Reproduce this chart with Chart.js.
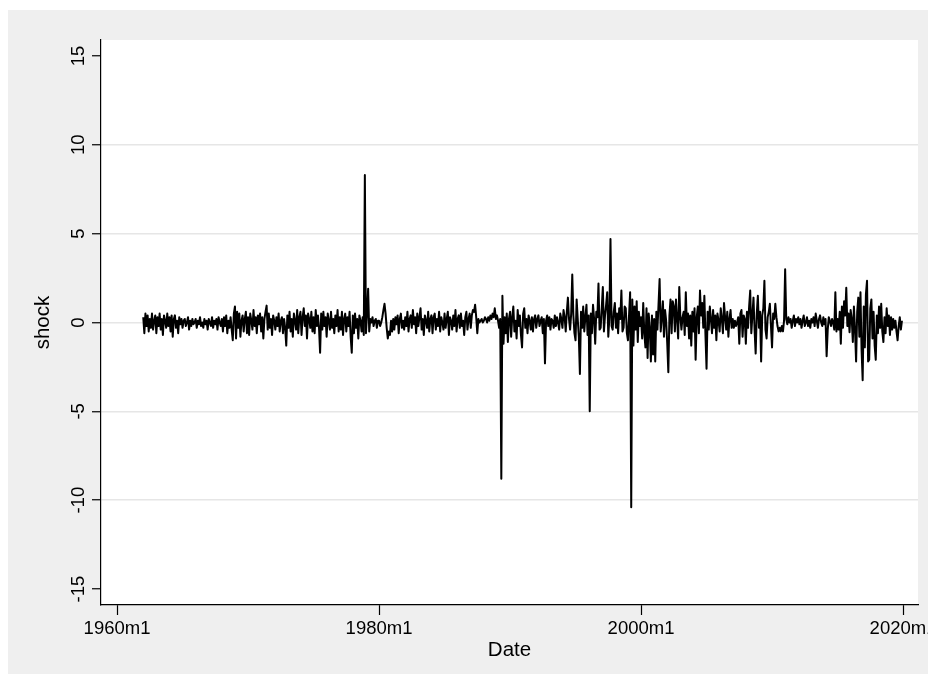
<!DOCTYPE html>
<html>
<head>
<meta charset="utf-8">
<title>shock</title>
<script src="https://cdn.jsdelivr.net/npm/chart.js@4.4.0/dist/chart.umd.min.js"></script>
<style>
    html, body { margin: 0; padding: 0; background: #ffffff; overflow: hidden; }
    #wrap { width: 940px; height: 684px; }
</style>
</head>
<body>
<div id="wrap"><canvas id="shock-chart" width="940" height="684"></canvas></div>
<script>
        // Monthly shock series, 1962m1 - 2019m12 (one row per year)
        const startYear = 1962;
        const shockByYear = [
            [0.3, -0.6, 0.5, -0.2, 0.4, -0.5, 0.2, -0.3, 0.5, -0.4, 0.1, 0.4],
            [-0.6, 0.3, -0.2, 0.5, -0.4, 0.2, -0.7, 0.4, 0.1, -0.3, 0.5, -0.2],
            [0.3, -0.5, 0.4, -0.8, 0.2, 0.4, -0.3, 0.1, -0.6, 0.3, -0.1, 0.2],
            [-0.3, 0.1, 0.2, -0.2, 0.0, 0.3, -0.4, 0.1, -0.2, 0.2, -0.1, 0.0],
            [0.2, -0.3, 0.1, -0.1, 0.3, -0.2, 0.0, -0.3, 0.2, -0.1, 0.1, -0.4],
            [0.2, 0.0, -0.2, 0.3, -0.3, 0.1, -0.1, 0.2, -0.4, 0.3, 0.0, -0.2],
            [0.2, -0.5, 0.3, -0.2, 0.4, -0.6, 0.1, -0.3, 0.3, -0.4, -1.0, 0.5],
            [0.9, -0.9, 0.6, -0.3, 0.5, -0.8, 0.1, 0.4, -0.5, 0.2, 0.6, -0.6],
            [0.3, -0.7, 0.5, 0.1, -0.4, 0.7, -0.2, 0.3, -0.6, 0.4, -0.1, 0.5],
            [-0.5, 0.3, -0.9, 0.2, 0.6, 0.95, -0.4, 0.5, -0.3, 0.2, -0.7, 0.4],
            [0.1, -0.4, 0.3, -0.2, 0.5, -0.5, 0.1, 0.3, -0.6, 0.2, -0.3, -1.3],
            [0.4, -0.3, 0.6, -0.5, 0.2, -0.8, 0.5, 0.1, -0.4, 0.7, -0.6, 0.3],
            [0.6, -0.7, 0.3, 0.8, -0.2, 0.4, -0.9, 0.5, 0.2, -0.3, 0.6, -0.5],
            [0.3, -0.6, 0.7, -0.2, 0.4, -0.3, -1.7, 0.5, -0.4, 0.6, -0.2, 0.3],
            [-0.8, 0.5, 0.1, -0.4, 0.6, -0.3, 0.2, -0.6, 0.4, -0.2, 0.7, -0.5],
            [0.3, -0.4, 0.6, -0.7, 0.2, 0.5, -0.5, 0.3, -0.2, 0.6, -0.8, -1.7],
            [0.4, -0.6, 0.5, -0.3, 0.2, -0.9, 0.4, 0.1, -0.5, 0.3, -0.7, 8.3],
            [-0.6, 0.5, 1.9, -0.5, 0.2, 0.0, 0.3, -0.2, 0.1, 0.2, -0.3, 0.1],
            [0.1, -0.2, 0.0, 0.3, 0.7, 1.05, 0.5, -0.3, -0.9, -0.5, -0.7, 0.1],
            [-0.5, 0.2, -0.4, 0.3, -0.1, 0.4, -0.6, 0.2, 0.5, -0.3, 0.1, -0.4],
            [0.3, -0.2, 0.6, -0.5, 0.2, 0.4, -0.3, 0.7, -0.1, 0.3, -0.6, 0.5],
            [-0.2, 0.3, 0.8, -0.4, 0.2, -0.7, 0.4, 0.1, -0.3, 0.6, -0.5, 0.2],
            [0.4, -0.6, 0.3, 0.5, -0.4, 0.2, -0.2, 0.6, -0.5, 0.3, 0.0, -0.4],
            [0.5, -0.3, 0.2, 0.6, -0.7, 0.3, 0.1, -0.4, 0.4, -0.2, 0.7, -0.5],
            [0.2, 0.4, -0.3, 0.5, -0.2, 0.1, -0.7, 0.3, 0.6, -0.4, 0.2, 0.5],
            [-0.3, 0.4, 0.7, 0.6, 1.0, 0.3, -0.6, 0.2, 0.0, 0.1, 0.2, 0.0],
            [0.1, 0.3, 0.2, 0.0, 0.3, 0.1, 0.4, 0.2, 0.5, 0.3, 0.8, 0.2],
            [0.4, 0.1, -0.3, 0.2, -8.8, 1.5, -1.2, 0.3, -0.6, 0.5, -1.1, 0.2],
            [0.6, -0.8, 0.3, 0.9, -0.5, 0.1, -0.9, 0.7, -0.2, 0.4, -0.7, -1.4],
            [0.5, 0.8, -0.3, 0.2, -0.6, 0.4, 0.1, -0.4, 0.3, -0.5, 0.2, 0.4],
            [-0.3, 0.2, 0.4, -0.2, 0.1, 0.3, -0.6, 0.2, -2.3, 0.1, 0.4, -0.2],
            [0.3, -0.4, 0.2, 0.1, -0.3, 0.4, -0.2, 0.3, 0.0, -0.4, 0.5, 0.2],
            [-0.3, 0.7, 0.3, -0.5, 0.6, 1.4, 0.2, -0.4, 0.5, 2.7, 0.4, -0.6],
            [-1.0, 1.3, 0.2, -0.8, -2.9, 0.6, -0.3, 0.9, -0.5, 0.3, 1.0, -0.7],
            [0.4, -5.0, 0.5, -0.6, 1.0, 0.2, -1.2, 0.6, 0.3, 2.2, -0.4, -0.3],
            [0.8, 2.0, -0.5, 0.4, 1.0, 1.7, -0.8, 0.3, 4.7, -0.2, -0.4, 0.6],
            [1.1, -0.3, 0.5, -0.6, 0.8, 0.2, 1.8, -0.5, -0.3, 0.9, 0.8, -0.6],
            [-1.0, 0.4, 1.7, -10.4, 1.3, -1.3, 0.9, -0.4, 1.2, -1.1, 0.6, -0.2],
            [0.3, -0.9, 1.1, -0.6, -1.4, 0.8, -2.0, 0.5, -0.3, -2.2, 0.4, -1.8],
            [0.2, -2.2, 0.6, -0.4, 1.0, 2.45, -0.5, 0.3, 1.2, -0.8, 0.7, 0.1],
            [-1.2, -2.8, 0.4, 1.3, -0.6, 1.2, 0.9, -0.5, 1.3, 0.2, -0.9, 2.0],
            [0.3, -0.4, 0.3, 0.6, -0.7, 1.7, -0.2, 0.5, -0.9, 0.4, -1.3, 0.6],
            [-0.5, 0.8, -2.1, 0.3, 0.9, -0.6, 1.8, 0.4, 1.1, -0.3, 1.5, -0.7],
            [-2.6, 0.6, -0.4, 0.9, 0.2, -0.6, 0.7, -0.3, 0.4, -1.0, 0.5, 0.1],
            [-0.5, 0.8, 0.2, -0.6, 1.1, 0.3, -0.4, 0.6, -0.8, 0.2, 0.7, -0.3],
            [0.2, -0.3, 0.1, -0.2, 0.0, 0.3, -1.2, 0.5, 0.7, -0.8, 0.4, 0.2],
            [-1.2, 0.6, -0.3, 0.9, 1.8, -0.6, 0.4, 1.4, -0.4, -1.75, 0.5, 1.5],
            [-0.3, 0.6, -2.2, 0.4, 0.8, 2.35, -0.4, -0.9, 0.3, 0.6, 1.05, -0.2],
            [-1.4, 0.5, 0.2, 1.05, 0.3, -0.2, -0.5, -0.3, -0.5, -0.2, -0.5, 0.1],
            [3.0, 0.2, -0.1, 0.3, 0.0, 0.2, -0.3, 0.1, 0.4, -0.2, 0.2, 0.0],
            [0.3, -0.1, 0.2, -0.3, 0.1, 0.4, -0.2, 0.0, 0.3, -0.2, 0.1, -0.3],
            [0.2, 0.0, 0.3, -0.2, 0.5, 0.1, -0.3, 0.2, 0.4, 0.0, -0.2, 0.3],
            [-0.1, 0.2, -1.9, -0.4, 0.3, 0.1, -0.2, 0.2, 0.0, -0.4, 1.7, -0.5],
            [0.2, -0.4, 0.6, -1.2, 0.9, -0.3, 1.2, 0.4, 1.95, -0.2, 0.5, -0.55],
            [0.7, 0.2, -1.1, 0.9, -0.4, -2.2, 0.6, 1.4, -0.8, 1.7, -1.5, -3.25],
            [0.9, -1.4, 1.6, 2.35, -2.2, -2.1, 0.8, 1.3, -0.9, 0.6, -1.3, -2.1],
            [0.4, -0.6, 0.9, -0.3, 1.05, -0.5, -1.1, 0.3, -0.6, 0.8, -0.2, 0.4],
            [-0.7, 0.3, -0.4, 0.2, -0.3, 0.1, -0.5, -1.0, -0.2, 0.3, -0.4, 0.1]
        ];

        // Axis ticks (x in months since 1960m1)
        const xTickValues = [0, 240, 480, 720];
        const xTickLabels = ['1960m1', '1980m1', '2000m1', '2020m1'];
        const yTickValues = [-15, -10, -5, 0, 5, 10, 15];

        const fontFamily = '"Liberation Sans", Arial, sans-serif';

        // Build {x, y} points from the yearly rows
        const points = [];
        shockByYear.forEach(function(row, i) {
            row.forEach(function(v, j) {
                points.push({ x: (startYear - 1960 + i) * 12 + j, y: v });
            });
        });

        // Grey graph region + white plot region
        const backgroundPlugin = {
            id: 'stataBackground',
            beforeDraw: function(chart) {
                const ctx = chart.ctx;
                const area = chart.chartArea;
                ctx.save();
                ctx.fillStyle = '#efefef';
                ctx.fillRect(8, 10, chart.width - 8, 664);
                ctx.fillStyle = '#ffffff';
                ctx.fillRect(area.left, area.top, area.right - area.left, area.bottom - area.top);
                ctx.restore();
            }
        };

        const ctx = document.getElementById('shock-chart').getContext('2d');
        const shockChart = new Chart(ctx, {
            type: 'line',
            data: {
                datasets: [{
                    label: 'shock',
                    data: points,
                    borderColor: '#000000',
                    borderWidth: 2,
                    borderJoinStyle: 'round',
                    pointRadius: 0,
                    tension: 0,
                    fill: false
                }]
            },
            options: {
                responsive: false,
                animation: false,
                devicePixelRatio: 1,
                layout: {
                    padding: { left: 0, top: 40, right: 22, bottom: 0 }
                },
                plugins: {
                    legend: { display: false },
                    tooltip: { enabled: false }
                },
                scales: {
                    x: {
                        type: 'linear',
                        min: -14.7,
                        max: 733.7,
                        afterBuildTicks: function(scale) {
                            scale.ticks = xTickValues.map(function(v) { return { value: v }; });
                        },
                        afterFit: function(scale) {
                            scale.height = 79;
                        },
                        ticks: {
                            autoSkip: false,
                            maxRotation: 0,
                            padding: 3,
                            color: '#000000',
                            font: { family: fontFamily, size: 18.5 },
                            callback: function(value) {
                                return xTickLabels[xTickValues.indexOf(value)];
                            }
                        },
                        grid: {
                            drawOnChartArea: false,
                            drawTicks: true,
                            tickLength: 10,
                            tickColor: '#000000',
                            tickWidth: 1.2
                        },
                        border: { color: '#000000', width: 1.2 },
                        title: {
                            display: true,
                            text: 'Date',
                            color: '#000000',
                            font: { family: fontFamily, size: 20.5 },
                            padding: { top: 0, bottom: 21 }
                        }
                    },
                    y: {
                        min: -15.9,
                        max: 15.9,
                        afterBuildTicks: function(scale) {
                            scale.ticks = yTickValues.map(function(v) { return { value: v }; });
                        },
                        afterFit: function(scale) {
                            scale.width = 101;
                        },
                        ticks: {
                            minRotation: 90,
                            maxRotation: 90,
                            crossAlign: 'center',
                            padding: 0,
                            color: '#000000',
                            font: { family: fontFamily, size: 18.5 }
                        },
                        grid: {
                            color: function(c) {
                                return Math.abs(c.tick.value) === 15 ? 'rgba(0,0,0,0)' : '#e6e6e6';
                            },
                            lineWidth: 1.5,
                            tickLength: 9,
                            tickColor: '#000000',
                            tickWidth: 1.2
                        },
                        border: { color: '#000000', width: 1.2 },
                        title: {
                            display: true,
                            text: 'shock',
                            color: '#000000',
                            font: { family: fontFamily, size: 20.5 },
                            padding: { top: 31, bottom: 0 }
                        }
                    }
                }
            },
            plugins: [backgroundPlugin]
        });
</script>
</body>
</html>
